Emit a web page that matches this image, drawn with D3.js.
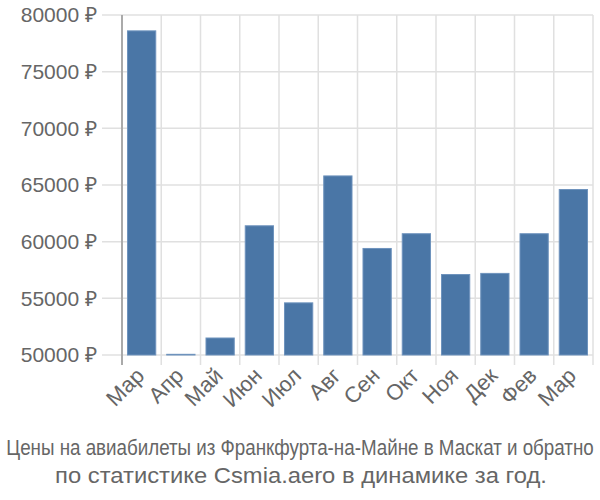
<!DOCTYPE html>
<html><head><meta charset="utf-8">
<script src="https://cdn.jsdelivr.net/npm/d3@7"></script>
<style>body{margin:0;background:#fff}svg{display:block}</style>
</head><body><svg id="c" width="600" height="500"></svg>
<script>
const months = ["Мар","Апр","Май","Июн","Июл","Авг","Сен","Окт","Ноя","Дек","Фев","Мар"];
const prices = [78600, 50060, 51500, 61400, 54600, 65800, 59400, 60700, 57100, 57200, 60700, 64600];
const yTicks = [50000, 55000, 60000, 65000, 70000, 75000, 80000];
const titleLines = ["Цены на авиабилеты из Франкфурта-на-Майне в Маскат и обратно", "по статистике Csmia.aero в динамике за год."];

const FONT = "'Liberation Sans', Arial, sans-serif";
const svg = d3.select("#c");
const L = 122, R = 593, T = 15, B = 355;
const x = d3.scaleBand().domain(d3.range(months.length)).range([L, R]).paddingInner(0.28).paddingOuter(0.14);
const xg = d3.scaleBand().domain(d3.range(months.length)).range([L, R]);
const y = d3.scaleLinear().domain([50000, 80000]).range([B, T]);

svg.append("g").selectAll("line").data(yTicks).join("line")
  .attr("x1", 102).attr("x2", R).attr("y1", d => y(d)).attr("y2", d => y(d))
  .attr("stroke", "#e0e0e0").attr("stroke-width", 1.5);
svg.append("g").selectAll("line").data(d3.range(1, months.length + 1)).join("line")
  .attr("x1", d => L + d * xg.bandwidth()).attr("x2", d => L + d * xg.bandwidth())
  .attr("y1", T).attr("y2", B + 10)
  .attr("stroke", "#e0e0e0").attr("stroke-width", 1.5);
svg.append("line").attr("x1", L).attr("x2", L).attr("y1", T).attr("y2", B + 10)
  .attr("stroke", "#aaaaaa").attr("stroke-width", 2);

svg.append("g").selectAll("text").data(yTicks).join("text")
  .attr("x", 97).attr("y", d => y(d)).attr("dy", "0.35em")
  .attr("text-anchor", "end").attr("fill", "#666").attr("font-family", FONT)
  .attr("font-size", 21).text(d => d + " ₽");

svg.append("g").selectAll("rect").data(prices).join("rect")
  .attr("x", (d, i) => x(i)).attr("width", x.bandwidth())
  .attr("y", d => y(d)).attr("height", d => Math.max(0, y(50000) - y(d)))
  .attr("fill", "#4a76a6").attr("stroke", "#6e93bd").attr("stroke-width", 1);

svg.append("g").selectAll("text").data(months).join("text")
  .attr("transform", (d, i) => `translate(${xg(i) + xg.bandwidth() / 2 + 4},${B + 22}) rotate(-45)`)
  .attr("text-anchor", "end").attr("fill", "#666").attr("font-family", FONT)
  .attr("font-size", 22).text(d => d);

function fitLine(txt, cx, cy, size, width) {
  const t = svg.append("text").attr("x", 0).attr("y", 0).attr("text-anchor", "middle")
    .attr("fill", "#666").attr("font-family", FONT).attr("font-size", size).text(txt);
  const w = t.node().getComputedTextLength();
  t.attr("transform", `translate(${cx},${cy}) scale(${width / w},1)`);
}
fitLine(titleLines[0], 300, 455, 22, 588);
fitLine(titleLines[1], 301, 483, 22, 492);
</script></body></html>
